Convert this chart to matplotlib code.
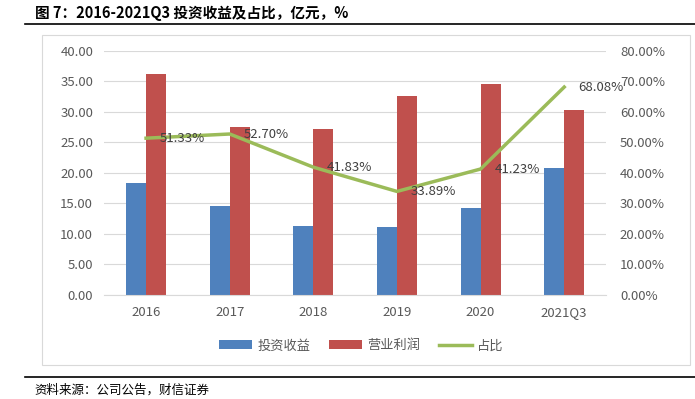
import matplotlib.pyplot as plt
import numpy as np
from matplotlib.patches import Rectangle
from matplotlib.lines import Line2D

plt.rcParams['font.family'] = ['Noto Sans CJK SC', 'DejaVu Sans']

years = ["2016", "2017", "2018", "2019", "2020", "2021Q3"]
invest_income = [18.4, 14.6, 11.3, 11.1, 14.3, 20.7]
op_profit = [36.2, 27.5, 27.2, 32.6, 34.6, 30.2]
ratio = [51.33, 52.70, 41.83, 33.89, 41.23, 68.08]

blue = "#4F81BD"
red = "#C0504D"
green = "#9BBB59"
gray = "#595959"

fig = plt.figure(figsize=(6.95, 3.99), dpi=100)

# title and rules
fig.text(0.05, 0.967, "图 7：2016-2021Q3 投资收益及占比，亿元，%", fontsize=10.5,
         fontweight="bold", ha="left", va="center", color="black")
fig.add_artist(Line2D([0.036, 1.0], [0.94, 0.94], color="black", lw=1.2))
fig.add_artist(Line2D([0.036, 1.0], [0.055, 0.055], color="black", lw=1.2))
fig.text(0.05, 0.022, "资料来源：公司公告，财信证券", fontsize=9, style="italic",
         ha="left", va="center", color="black")
fig.add_artist(Rectangle((0.061, 0.085), 0.932, 0.827, fill=False,
                         edgecolor="#D9D9D9", lw=0.8))

ax = fig.add_axes([0.150, 0.261, 0.722, 0.612])
x = np.arange(len(years))
w = 0.24
ax.bar(x - w / 2, invest_income, w, color=blue, label="投资收益", zorder=2)
ax.bar(x + w / 2, op_profit, w, color=red, label="营业利润", zorder=2)
ax.set_ylim(0, 40)
ax.set_yticks(np.arange(0, 40.1, 5))
ax.set_yticklabels([f"{v:.2f}" for v in np.arange(0, 40.1, 5)])
ax.set_xlim(-0.5, len(years) - 0.5)
ax.set_xticks(x)
ax.set_xticklabels(years)
ax.grid(axis="y", color="#D9D9D9", lw=0.8, zorder=0)
ax.set_axisbelow(True)
for s in ["top", "left", "right"]:
    ax.spines[s].set_visible(False)
ax.spines["bottom"].set_color("#D9D9D9")
ax.tick_params(length=0, colors=gray, labelsize=9.5, pad=8)

ax2 = ax.twinx()
ax2.plot(x, ratio, color=green, lw=2.5, label="占比", zorder=3)
ax2.set_ylim(0, 80)
ax2.set_yticks(np.arange(0, 80.1, 10))
ax2.set_yticklabels([f"{v:.2f}%" for v in np.arange(0, 80.1, 10)])
for s in ["top", "left", "right", "bottom"]:
    ax2.spines[s].set_visible(False)
ax2.tick_params(length=0, colors=gray, labelsize=9.5, pad=10)
for xi, r in zip(x, ratio):
    ax2.annotate(f"{r:.2f}%", (xi, r), xytext=(10, 0), textcoords="offset points",
                 ha="left", va="center", fontsize=9.5, color="#404040")

h1, l1 = ax.get_legend_handles_labels()
h2, l2 = ax2.get_legend_handles_labels()
fig.legend(h1 + h2, l1 + l2, loc="center", bbox_to_anchor=(0.52, 0.133), ncol=3,
           frameon=False, fontsize=9.5, labelcolor=gray, handlelength=2.5,
           columnspacing=1.4, handletextpad=0.4)

fig.savefig("out.png", dpi=100)
